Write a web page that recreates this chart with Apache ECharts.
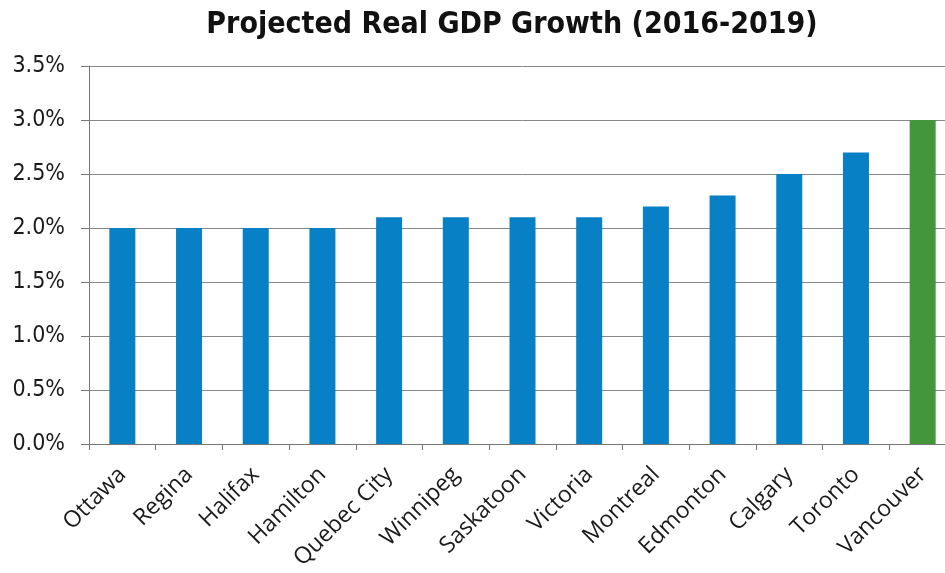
<!DOCTYPE html>
<html><head><meta charset="utf-8">
<script src="https://cdn.jsdelivr.net/npm/echarts@6/dist/echarts.min.js"></script>
<style>html,body{margin:0;padding:0;background:#fff;overflow:hidden}#c{width:960px;height:573px}</style>
</head><body><div id="c"></div>
<script>
const categories = ["Ottawa","Regina","Halifax","Hamilton","Quebec City","Winnipeg","Saskatoon","Victoria","Montreal","Edmonton","Calgary","Toronto","Vancouver"];
const growth = [2.0,2.0,2.0,2.0,2.1,2.1,2.1,2.1,2.2,2.3,2.5,2.7,3.0];
const highlight = ["Vancouver"];
const yTicks = [0,0.5,1.0,1.5,2.0,2.5,3.0,3.5];

const chart = echarts.init(document.getElementById('c'));
chart.setOption({
  animation:false,
  backgroundColor:'#fff',
  title:{text:'Projected Real GDP Growth (2016-2019)',left:507,top:5,textAlign:'center',
    textStyle:{fontFamily:'DejaVu Sans Condensed',fontWeight:'bold',fontSize:30,color:'#111'}},
  grid:{left:89,top:66,right:4,bottom:129,containLabel:false},
  xAxis:{type:'category',data:categories,
    axisLine:{lineStyle:{color:'#777',width:1}},
    axisTick:{show:true,length:6,lineStyle:{color:'#777'}},
    axisLabel:{rotate:45,interval:0,fontFamily:'Open Sans',fontSize:23,color:'#1a1a1a',margin:27}},
  yAxis:{type:'value',min:yTicks[0],max:yTicks[yTicks.length-1],interval:0.5,
    axisLine:{show:true,lineStyle:{color:'#777'}},
    axisTick:{show:true,length:8,lineStyle:{color:'#777'}},
    splitLine:{lineStyle:{color:'#888',width:1}},
    axisLabel:{fontFamily:'DejaVu Sans Condensed',fontSize:23,color:'#1a1a1a',margin:24,
      formatter:v=>v.toFixed(1)+'%'}},
  series:[{type:'bar',barWidth:26,
    data:growth.map((v,i)=>({value:v,itemStyle:{color:highlight.includes(categories[i])?'#43973A':'#0880C6'}}))}]
});
</script></body></html>
